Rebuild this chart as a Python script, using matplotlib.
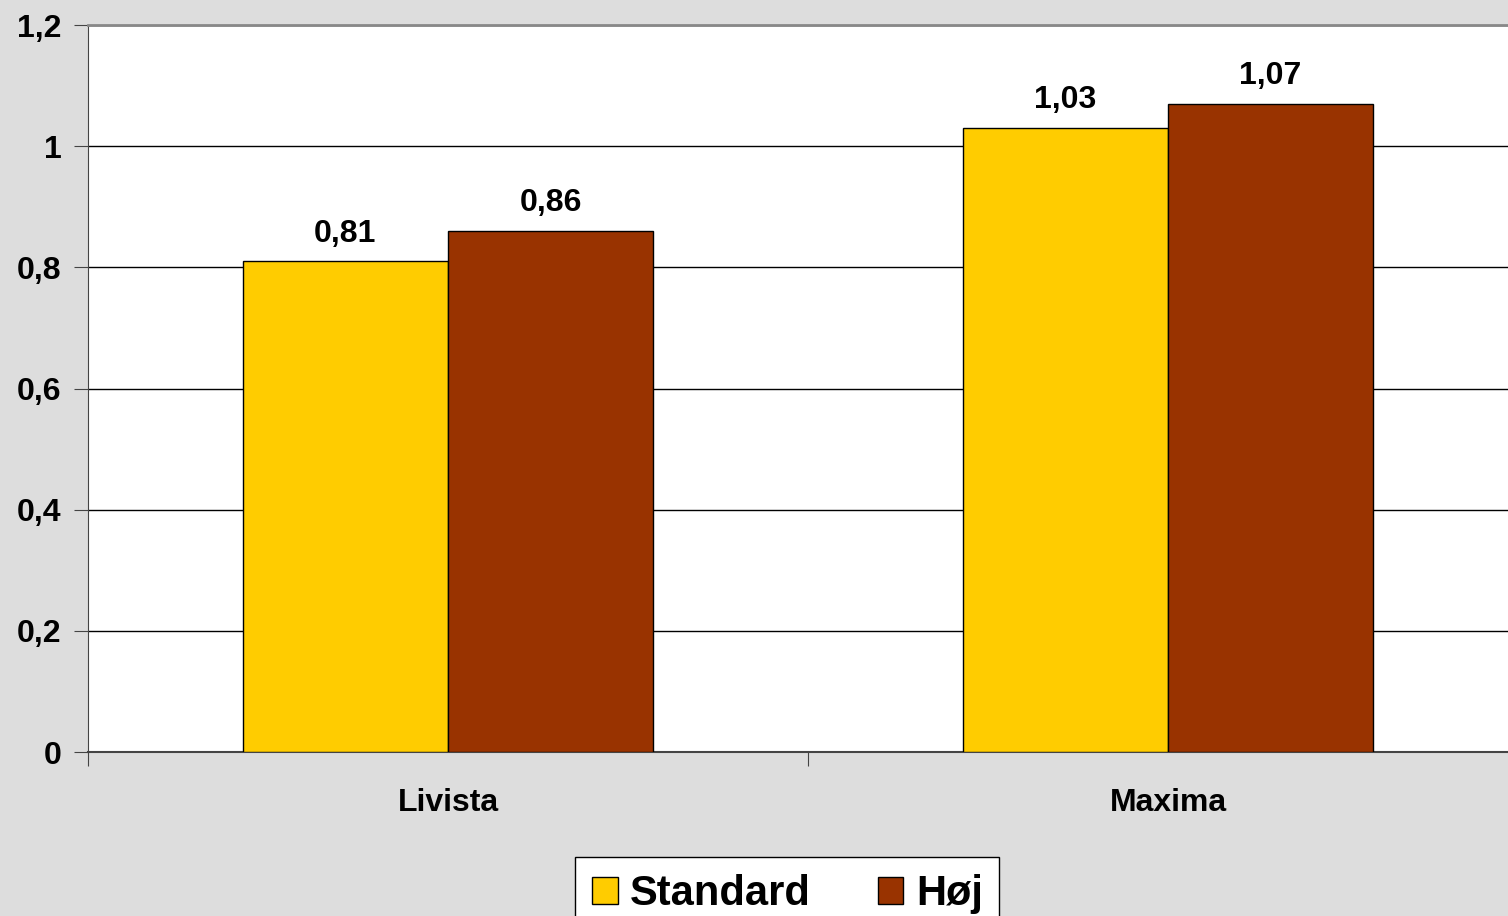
import matplotlib.pyplot as plt
import numpy as np
from matplotlib.ticker import FuncFormatter

categories = ["Livista", "Maxima"]
series = ["Standard", "Høj"]
standard = [0.81, 1.03]
hoej = [0.86, 1.07]
colors = ["#FFCC00", "#993300"]

plt.rcParams["font.family"] = ["Liberation Sans", "DejaVu Sans"]
plt.rcParams["font.weight"] = "bold"

fig = plt.figure(figsize=(15.08, 9.16), dpi=100, facecolor="#DDDDDD")
ax = fig.add_axes([88 / 1508, 164 / 916, 1420 / 1508, 727 / 916])
ax.set_facecolor("white")

x = np.arange(len(categories))
w = 0.285
b1 = ax.bar(x - w / 2, standard, w, color=colors[0], edgecolor="black", linewidth=1, label=series[0], zorder=3)
b2 = ax.bar(x + w / 2, hoej, w, color=colors[1], edgecolor="black", linewidth=1, label=series[1], zorder=3)

for bars, vals in ((b1, standard), (b2, hoej)):
    for r, v in zip(bars, vals):
        ax.annotate(f"{v:.2f}".replace(".", ","), (r.get_x() + r.get_width() / 2, v),
                    xytext=(0, 9), textcoords="offset points", ha="center", va="bottom",
                    fontsize=23, fontweight="bold")

ax.set_xlim(-0.5, 1.4722)
ax.set_ylim(0, 1.2)
ax.set_yticks(np.arange(0, 1.21, 0.2))
ax.yaxis.set_major_formatter(FuncFormatter(lambda v, p: ("%g" % round(v, 1)).replace(".", ",")))
ax.yaxis.grid(True, color="black", linewidth=1, zorder=0)
ax.set_axisbelow(True)

ax.set_xticks([-0.5, 0.5])
ax.set_xticklabels([])
ax.set_xticks(x, minor=True)
ax.set_xticklabels(categories, minor=True)
ax.tick_params(axis="x", which="minor", length=0, pad=26, labelsize=23)
ax.tick_params(axis="x", which="major", length=10, direction="out", color="#444444")
ax.tick_params(axis="y", length=10, direction="out", pad=9, labelsize=23, color="#444444")

ax.spines["right"].set_visible(False)
ax.spines["top"].set_color("#888888")
ax.spines["top"].set_linewidth(2)
ax.spines["left"].set_color("#444444")
ax.spines["bottom"].set_color("#444444")
ax.spines["bottom"].set_linewidth(1.5)

leg = fig.legend(handles=[b1, b2], labels=series, loc="upper left", ncol=2,
                 bbox_to_anchor=(575 / 1508, 59 / 916), borderaxespad=0, fontsize=30, frameon=True,
                 fancybox=False, edgecolor="black", framealpha=1, handlelength=0.62, handleheight=0.62,
                 handletextpad=0.3, columnspacing=1.6, borderpad=0.4)
leg.get_frame().set_linewidth(1)
for t in leg.get_texts():
    t.set_fontweight("bold")

fig.savefig("out.png", dpi=100, facecolor=fig.get_facecolor())
